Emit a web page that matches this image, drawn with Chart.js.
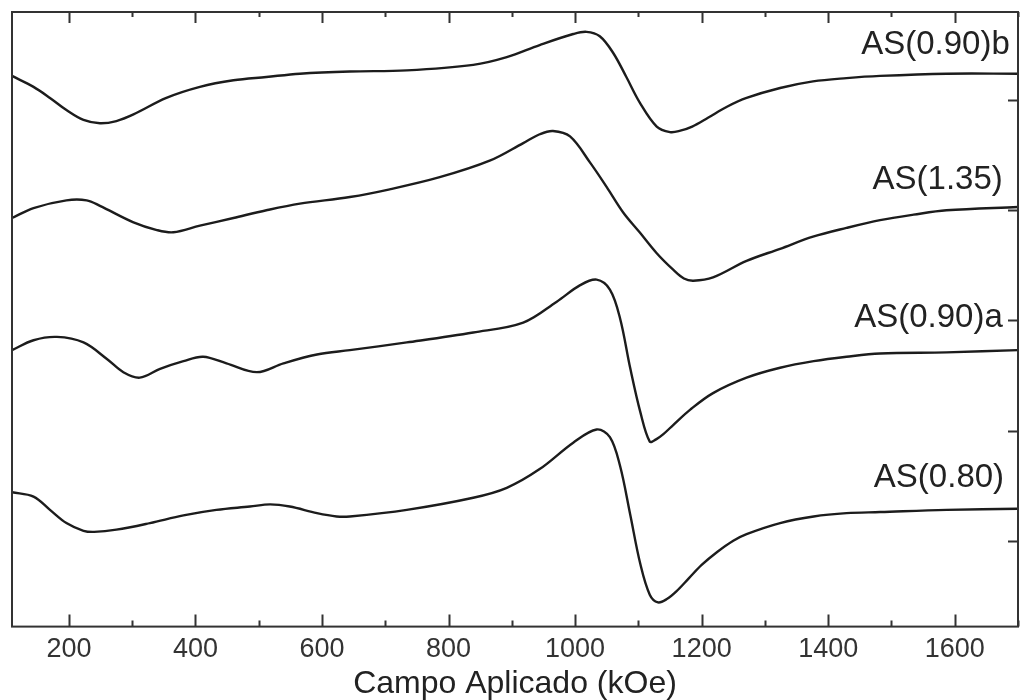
<!DOCTYPE html>
<html>
<head>
<meta charset="utf-8">
<script src="https://cdn.jsdelivr.net/npm/chart.js@4"></script>
<style>
  html, body { margin: 0; padding: 0; background: #fff; }
  #wrap { width: 1024px; height: 700px; }
</style>
</head>
<body>
<div id="wrap"><canvas id="esr"></canvas></div>
<script>
// ---------- DATA ----------
const sampleNames = ["AS(0.90)b", "AS(1.35)", "AS(0.90)a", "AS(0.80)"];

const fieldB = [110, 144, 170, 196, 223, 249, 275, 302, 354, 407, 460, 512, 565, 644, 734, 839, 892, 944, 997, 1018, 1039, 1060, 1081, 1102, 1129, 1150, 1165, 1185, 1210, 1240, 1271, 1324, 1376, 1429, 1482, 1587, 1700];
const signalB = [4.22, 4.12, 4.02, 3.91, 3.82, 3.79, 3.81, 3.87, 4.02, 4.12, 4.18, 4.21, 4.24, 4.26, 4.27, 4.32, 4.39, 4.50, 4.60, 4.62, 4.58, 4.43, 4.21, 3.98, 3.76, 3.71, 3.72, 3.76, 3.84, 3.94, 4.02, 4.11, 4.17, 4.20, 4.22, 4.24, 4.24];

const field135 = [110, 144, 196, 228, 249, 302, 339, 365, 407, 460, 512, 565, 644, 707, 786, 865, 918, 944, 965, 992, 1024, 1050, 1076, 1102, 1129, 1155, 1172, 1187, 1218, 1271, 1324, 1376, 1429, 1482, 1535, 1587, 1700];
const signal135 = [2.93, 3.02, 3.09, 3.09, 3.04, 2.89, 2.82, 2.80, 2.86, 2.93, 3.00, 3.06, 3.12, 3.19, 3.30, 3.45, 3.61, 3.69, 3.72, 3.67, 3.43, 3.21, 2.98, 2.80, 2.61, 2.46, 2.38, 2.36, 2.39, 2.54, 2.65, 2.76, 2.84, 2.91, 2.96, 3.00, 3.03];

const fieldA = [110, 144, 181, 223, 260, 286, 312, 344, 381, 412, 449, 497, 539, 592, 644, 734, 839, 918, 971, 1008, 1034, 1055, 1071, 1087, 1103, 1118, 1128, 1140, 1155, 1182, 1218, 1271, 1324, 1377, 1429, 1482, 1587, 1700];
const signalA = [1.73, 1.82, 1.85, 1.80, 1.65, 1.53, 1.48, 1.56, 1.63, 1.67, 1.61, 1.53, 1.61, 1.69, 1.73, 1.80, 1.89, 1.98, 2.17, 2.32, 2.37, 2.28, 2.02, 1.57, 1.17, 0.90, 0.92, 0.97, 1.05, 1.19, 1.34, 1.48, 1.57, 1.63, 1.67, 1.70, 1.71, 1.73];

const field080 = [110, 144, 170, 196, 223, 240, 275, 328, 381, 433, 486, 518, 549, 592, 623, 644, 734, 839, 892, 944, 997, 1034, 1055, 1071, 1087, 1103, 1118, 1131, 1145, 1160, 1180, 1200, 1225, 1250, 1271, 1324, 1377, 1429, 1482, 1587, 1700];
const signal080 = [0.44, 0.40, 0.28, 0.16, 0.09, 0.08, 0.10, 0.16, 0.23, 0.28, 0.31, 0.33, 0.31, 0.25, 0.22, 0.22, 0.28, 0.39, 0.48, 0.65, 0.89, 1.01, 0.94, 0.68, 0.24, -0.21, -0.49, -0.56, -0.53, -0.46, -0.34, -0.22, -0.10, 0.00, 0.06, 0.16, 0.22, 0.25, 0.26, 0.28, 0.29];

// label anchors (right edge, centre) in data units
const labelX = [1687, 1676, 1676, 1678];
const labelY = [4.50, 3.28, 2.02, 0.57];

// tick values
const majorX = [200, 400, 600, 800, 1000, 1200, 1400, 1600];
const minorX = [300, 500, 700, 900, 1100, 1300, 1500, 1700];
const rightTicks = [0, 1, 2, 3, 4];

const fields = [fieldB, field135, fieldA, field080];
const signals = [signalB, signal135, signalA, signal080];

const FONT = '"Liberation Sans", Arial, sans-serif';

// ---------- FRAME, INWARD TICKS, CURVE LABELS ----------
const frameTicks = {
  id: "frameTicks",
  afterDatasetsDraw(chart) {
    const { ctx, chartArea: a, scales } = chart;
    const x = scales.x, y = scales.y;
    ctx.save();
    ctx.strokeStyle = "#333";
    ctx.lineWidth = 2;
    ctx.strokeRect(a.left, a.top, a.right - a.left, a.bottom - a.top);

    ctx.beginPath();
    majorX.forEach((v) => {
      const px = Math.round(x.getPixelForValue(v)) + 0.5;
      ctx.moveTo(px, a.bottom); ctx.lineTo(px, a.bottom - 12);
      ctx.moveTo(px, a.top); ctx.lineTo(px, a.top + 11);
    });
    minorX.forEach((v) => {
      const px = Math.round(x.getPixelForValue(v)) + 0.5;
      ctx.moveTo(px, a.bottom); ctx.lineTo(px, a.bottom - 6);
      ctx.moveTo(px, a.top); ctx.lineTo(px, a.top + 5);
    });
    rightTicks.forEach((v) => {
      const py = Math.round(y.getPixelForValue(v)) + 0.5;
      ctx.moveTo(a.right, py); ctx.lineTo(a.right - 10, py);
    });
    ctx.stroke();

    ctx.fillStyle = "#222";
    ctx.font = "33px " + FONT;
    ctx.textAlign = "right";
    ctx.textBaseline = "middle";
    sampleNames.forEach((name, i) => {
      ctx.fillText(name, x.getPixelForValue(labelX[i]), y.getPixelForValue(labelY[i]));
    });
    ctx.restore();
  }
};

const datasets = sampleNames.map((name, i) => ({
  label: name,
  data: fields[i].map((f, j) => ({ x: f, y: signals[i][j] })),
  borderColor: "#1c1c1c",
  borderWidth: 2.4,
  pointRadius: 0,
  fill: false,
  tension: 0.35
}));

new Chart(document.getElementById("esr"), {
  type: "line",
  data: { datasets },
  options: {
    responsive: true,
    maintainAspectRatio: false,
    animation: false,
    layout: { padding: { left: 12, right: 6, top: 12, bottom: 0 } },
    plugins: { legend: { display: false }, tooltip: { enabled: false } },
    scales: {
      x: {
        type: "linear",
        min: 110,
        max: 1700,
        afterBuildTicks: (s) => { s.ticks = majorX.map((v) => ({ value: v })); },
        grid: { display: false, drawTicks: false },
        border: { display: false },
        ticks: {
          color: "#333",
          font: { family: FONT, size: 27 },
          padding: 7,
          maxRotation: 0,
          callback: (v) => String(v)
        },
        title: {
          display: true,
          text: "Campo Aplicado (kOe)",
          color: "#222",
          font: { family: FONT, size: 32, lineHeight: 1.0 },
          padding: { top: -5, bottom: 0 }
        }
      },
      y: {
        display: false,
        min: -0.78,
        max: 4.8
      }
    }
  },
  plugins: [frameTicks]
});
</script>
</body>
</html>
